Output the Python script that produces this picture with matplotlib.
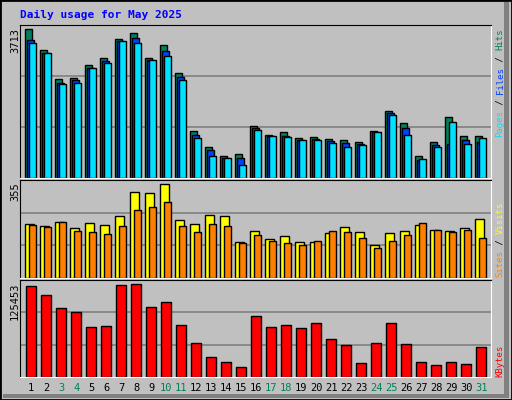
import matplotlib.pyplot as plt
from matplotlib.patches import Rectangle

days = list(range(1, 32))
weekends = [3, 4, 10, 11, 17, 18, 24, 25, 31]

hits = [3713, 3209, 2478, 2503, 2831, 3007, 3486, 3612, 3007, 3335, 2629, 1168, 764, 538, 588, 1294,
        1067, 1142, 991, 1016, 966, 941, 890, 1168, 1672, 1369, 538, 890, 1520, 1042, 1042]
files = [3461, 3133, 2377, 2453, 2755, 2932, 3436, 3511, 2957, 3184, 2528, 1067, 689, 512, 512, 1243,
         1042, 1042, 941, 966, 916, 865, 840, 1142, 1621, 1243, 462, 815, 840, 941, 890]
pages = [3385, 3133, 2352, 2377, 2755, 2881, 3436, 3385, 2957, 3058, 2453, 991, 538, 512, 336, 1193,
         1042, 1016, 941, 941, 865, 764, 815, 1142, 1571, 1067, 487, 764, 1394, 840, 991]
visits = [204, 197, 212, 189, 208, 201, 235, 328, 324, 355, 220, 204, 239, 235, 135, 177,
          147, 158, 135, 135, 170, 193, 174, 127, 170, 177, 201, 181, 177, 189, 224]
sites = [201, 193, 212, 177, 174, 166, 197, 259, 270, 289, 197, 174, 204, 197, 131, 162,
         139, 131, 127, 139, 177, 174, 150, 112, 139, 162, 208, 181, 174, 181, 150]
kbytes = [122687, 111660, 93740, 88226, 67547, 68925, 124065, 125453, 95117, 102009, 70304, 45491,
          27570, 20678, 13785, 82711, 67547, 70304, 66168, 73061, 51005, 42734, 19299, 45491,
          73061, 44112, 20678, 16542, 20678, 17921, 39977]

W, H = 512, 400
BG = "#C0C0C0"
GREEN, BLUE, CYAN = "#00805C", "#0040FF", "#00E0FF"
YELLOW, ORANGE, RED = "#FFFF00", "#FF8000", "#FF0000"


def px_axes(fig, x0, y0, x1, y1):
    return fig.add_axes([x0 / W, 1 - y1 / H, (x1 - x0) / W, (y1 - y0) / H])


def style(ax, top):
    ax.set_facecolor(BG)
    ax.set_xlim(0.28, 31.67)
    ax.set_ylim(0, top)
    for f in (1 / 3, 2 / 3):
        ax.axhline(top * f, color="#808080", lw=1.2, zorder=0)
    ax.set_xticks([])
    ax.set_yticks([])
    for s in ("top", "left"):
        ax.spines[s].set_color("black")
    for s in ("bottom", "right"):
        ax.spines[s].set_color("white")


def bars(ax, off, vals, w, color):
    ax.bar([d + off for d in days], vals, width=w, color=color, edgecolor="black", linewidth=1, zorder=2)


fig = plt.figure(figsize=(W / 100, H / 100), dpi=100, facecolor=BG)
fig.patches.append(Rectangle((0, 0), 1, 1, transform=fig.transFigure, fill=False,
                             edgecolor="black", lw=2))
fig.patches.append(Rectangle((0.985, 0.005), 0.01, 0.99, transform=fig.transFigure,
                             color="#808080", lw=0))
fig.patches.append(Rectangle((0.005, 0.005), 0.99, 0.01, transform=fig.transFigure,
                             color="#808080", lw=0))

mono = "DejaVu Sans Mono"
fig.text(20 / W, 1 - 15 / H, "Daily usage for May 2025", color="#0000FF", family=mono,
         weight="bold", fontsize=8, va="center", ha="left")

ax1 = px_axes(fig, 20, 25, 491, 178)
style(ax1, 3824)
bars(ax1, -0.133, hits, 0.467, GREEN)
bars(ax1, 0.0, files, 0.467, BLUE)
bars(ax1, 0.133, pages, 0.467, CYAN)

ax2 = px_axes(fig, 20, 180, 491, 278)
style(ax2, 372)
bars(ax2, -0.067, visits, 0.6, YELLOW)
bars(ax2, 0.133, sites, 0.467, ORANGE)

ax3 = px_axes(fig, 20, 280, 491, 377)
style(ax3, 131400)
bars(ax3, 0.033, kbytes, 0.667, RED)

# max value labels
for y, txt in [(28, str(max(hits))), (182, str(max(visits))), (282, str(max(kbytes)))]:
    fig.text(15 / W, 1 - y / H, txt, rotation=90, ha="center", va="top", family=mono, fontsize=7.5)


# right side legends, stacked rotated pieces (one char = 0.6 em in mono)
def side_label(bottom, parts, size=6.5):
    step = 0.6 * size * 100 / 72
    i = 0
    for txt, col in parts:
        fig.text(500 / W, 1 - (bottom - i * step) / H, txt, rotation=90, ha="center", va="bottom",
                 family=mono, fontsize=size, color=col)
        i += len(txt)


side_label(137, [("Pages", CYAN), (" / ", "black"), ("Files", BLUE), (" / ", "black"), ("Hits", GREEN)])
side_label(277, [("Sites", ORANGE), (" / ", "black"), ("Visits", YELLOW)])
side_label(377, [("KBytes", RED)])

# day labels
for d in days:
    x = 20 + (d + 0.033 - 0.28) / (31.67 - 0.28) * 471
    fig.text(x / W, 1 - 388 / H, str(d), ha="center", va="center", family=mono, fontsize=7.5,
             color=GREEN if d in weekends else "black")

fig.savefig("out.png", dpi=100, facecolor=BG)
